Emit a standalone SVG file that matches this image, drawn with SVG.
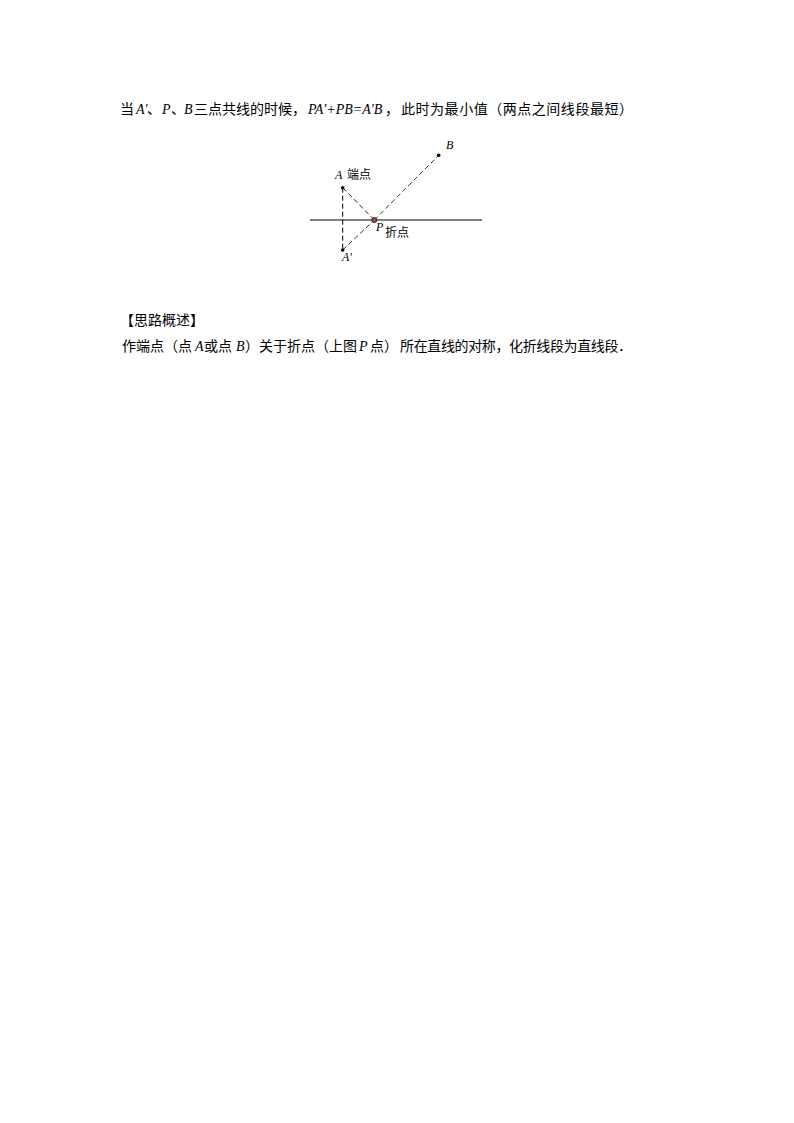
<svg xmlns="http://www.w3.org/2000/svg" width="794" height="1123" viewBox="0 0 794 1123">
<style>
.cjk{font-family:"Noto Sans CJK SC","Noto Sans",sans-serif;font-size:14px;fill:#000}
.it{font-family:"Liberation Serif","Times New Roman",serif;font-style:italic;font-size:14px;fill:#000}
.lbl{font-family:"Noto Sans CJK SC","Noto Sans",sans-serif;font-size:12px;fill:#000}
.lit{font-family:"Liberation Serif","Times New Roman",serif;font-style:italic;font-size:12px;fill:#000}
.dash{fill:none;stroke-width:1;stroke-dasharray:5 3}
.dot{fill:#000}
</style>
<rect width="794" height="1123" fill="#fff"/>

<text y="114">
<tspan class="cjk" x="120">当</tspan>
<tspan class="it" x="136">A'</tspan>
<tspan class="cjk" x="147">、</tspan>
<tspan class="it" x="162">P</tspan>
<tspan class="cjk" x="171">、</tspan>
<tspan class="it" x="184">B</tspan>
<tspan class="cjk" x="194">三点共线的时候，</tspan>
<tspan class="it" x="308">PA'+PB=A'B</tspan>
<tspan class="cjk" x="385">，</tspan>
<tspan class="cjk" x="401" textLength="232" lengthAdjust="spacing">此时为最小值（两点之间线段最短）</tspan>
</text>

<g id="connectors">
<line x1="310" y1="220" x2="482" y2="220" stroke="#000" stroke-width="1"/>
<line class="dash" x1="342.7" y1="187.7" x2="342.7" y2="250" stroke="#000"/>
<line class="dash" x1="342.7" y1="187.7" x2="374.3" y2="220" stroke="#222" stroke-dasharray="4 3"/>
<line class="dash" x1="342.7" y1="250" x2="374.3" y2="220" stroke="#3a2a2a" stroke-dasharray="4 3"/>
<line class="dash" x1="374.3" y1="220" x2="438.7" y2="155.3" stroke="#1f4a1f"/>
</g>

<g id="node-B">
<circle class="dot" cx="438.7" cy="155.3" r="1.8"/>
<text class="lit" x="446" y="149">B</text>
</g>
<g id="node-A">
<circle class="dot" cx="342.7" cy="187.7" r="1.8"/>
<text y="179"><tspan class="lit" x="335">A</tspan><tspan class="lbl" x="347">端点</tspan></text>
</g>
<g id="node-P">
<circle cx="374.3" cy="220" r="2.6" fill="#8a4a4a" stroke="#3a1a1a" stroke-width="0.8"/>
<text class="lit" x="376" y="231">P</text>
<text class="lbl" x="385" y="237">折点</text>
</g>
<g id="node-A-prime">
<circle class="dot" cx="342.7" cy="250" r="1.8"/>
<text class="lit" x="342" y="261">A'</text>
</g>

<text class="cjk" x="120" y="325">【思路概述】</text>

<text y="351">
<tspan class="cjk" x="122">作端点（点</tspan>
<tspan class="it" x="195">A</tspan>
<tspan class="cjk" x="204">或点</tspan>
<tspan class="it" x="236">B</tspan>
<tspan class="cjk" x="245">）关于折点（上图</tspan>
<tspan class="it" x="359">P</tspan>
<tspan class="cjk" x="370">点）</tspan>
<tspan class="cjk" x="400" textLength="232" lengthAdjust="spacing">所在直线的对称，化折线段为直线段．</tspan>
</text>
</svg>
